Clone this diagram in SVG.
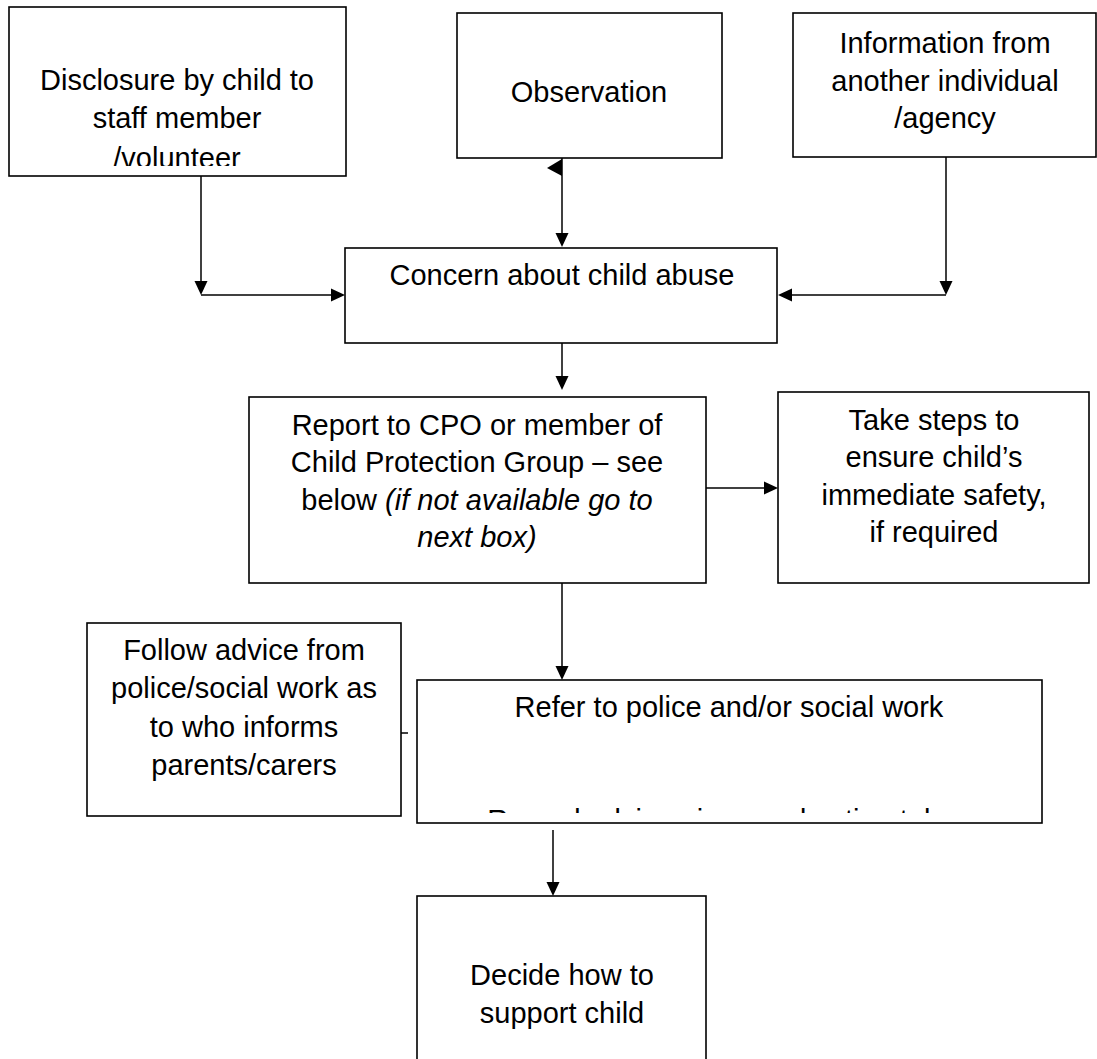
<svg xmlns="http://www.w3.org/2000/svg" width="1097" height="1059" viewBox="0 0 1097 1059">
<style>
.box{fill:#fff;stroke:#000;stroke-width:1.6}
.t{font-family:"Liberation Sans",Arial,sans-serif;font-size:29px;fill:#000;text-anchor:middle}
.i{font-style:italic}
.ln{stroke:#000;stroke-width:1.5;fill:none}
.ah{fill:#000}
</style>
<defs>
<clipPath id="c1"><rect x="9" y="7" width="337" height="159"/></clipPath>
<clipPath id="c2"><rect x="417" y="680" width="625" height="133"/></clipPath>
</defs>
<rect width="1097" height="1059" fill="#fff"/>
<g id="connectors">
<line class="ln" x1="201" y1="176" x2="201" y2="283"/>
<polygon class="ah" points="194.5,281 207.5,281 201,295"/>
<line class="ln" x1="201" y1="295" x2="333" y2="295"/>
<polygon class="ah" points="331,288.5 331,301.5 345,295"/>
<line class="ln" x1="562" y1="158" x2="562" y2="235"/>
<polygon class="ah" points="555.5,233 568.5,233 562,247"/>
<polygon class="ah" points="547,168 562,159 562,176"/>
<line class="ln" x1="946" y1="157" x2="946" y2="283"/>
<polygon class="ah" points="939.5,281 952.5,281 946,295"/>
<line class="ln" x1="946" y1="295" x2="790" y2="295"/>
<polygon class="ah" points="792,288.5 792,301.5 778,295"/>
<line class="ln" x1="562" y1="343" x2="562" y2="378"/>
<polygon class="ah" points="555.5,376 568.5,376 562,390"/>
<line class="ln" x1="706" y1="488" x2="766" y2="488"/>
<polygon class="ah" points="764,481.5 764,494.5 778,488"/>
<line class="ln" x1="562" y1="583" x2="562" y2="668"/>
<polygon class="ah" points="555.5,666 568.5,666 562,680"/>
<line class="ln" x1="401" y1="733" x2="408" y2="733"/>
<line class="ln" x1="553" y1="830" x2="553" y2="884"/>
<polygon class="ah" points="546.5,882 559.5,882 553,896"/>
</g>
<g id="disclosure">
<rect class="box" x="9" y="7" width="337" height="169"/>
<g clip-path="url(#c1)">
<text class="t" x="177" y="90">Disclosure by child to</text>
<text class="t" x="177" y="128">staff member</text>
<text class="t" x="177" y="168">/volunteer</text>
</g>
</g>
<g id="observation">
<rect class="box" x="457" y="13" width="265" height="145"/>
<text class="t" x="589" y="102">Observation</text>
</g>
<g id="information">
<rect class="box" x="793" y="13" width="303" height="144"/>
<text class="t" x="945" y="53">Information from</text>
<text class="t" x="945" y="91">another individual</text>
<text class="t" x="945" y="128">/agency</text>
</g>
<g id="concern">
<rect class="box" x="345" y="248" width="432" height="95"/>
<text class="t" x="562" y="285">Concern about child abuse</text>
</g>
<g id="report">
<rect class="box" x="249" y="397" width="457" height="186"/>
<text class="t" x="477" y="435">Report to CPO or member of</text>
<text class="t" x="477" y="472">Child Protection Group – see</text>
<text class="t" x="477" y="510">below <tspan class="i">(if not available go to</tspan></text>
<text class="t i" x="477" y="547">next box)</text>
</g>
<g id="takesteps">
<rect class="box" x="778" y="392" width="311" height="191"/>
<text class="t" x="934" y="430">Take steps to</text>
<text class="t" x="934" y="467">ensure child’s</text>
<text class="t" x="934" y="505">immediate safety,</text>
<text class="t" x="934" y="542">if required</text>
</g>
<g id="follow">
<rect class="box" x="87" y="623" width="314" height="193"/>
<text class="t" x="244" y="660">Follow advice from</text>
<text class="t" x="244" y="698">police/social work as</text>
<text class="t" x="244" y="737">to who informs</text>
<text class="t" x="244" y="775">parents/carers</text>
</g>
<g id="refer">
<rect class="box" x="417" y="680" width="625" height="143"/>
<g clip-path="url(#c2)">
<text class="t" x="729" y="717">Refer to police and/or social work</text>
<text class="t" x="729" y="830">Record advice given and action taken</text>
</g>
</g>
<g id="decide">
<rect class="box" x="417" y="896" width="289" height="180"/>
<text class="t" x="562" y="985">Decide how to</text>
<text class="t" x="562" y="1023">support child</text>
</g>
</svg>
